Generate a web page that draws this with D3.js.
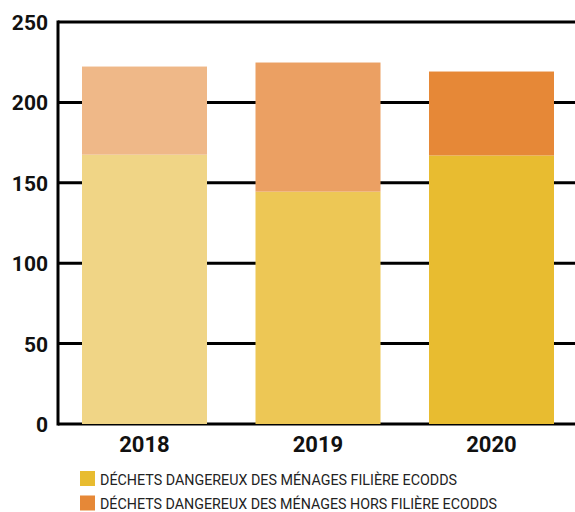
<!DOCTYPE html>
<html><head><meta charset="utf-8">
<script src="https://cdn.jsdelivr.net/npm/d3@7"></script>
<style>body{margin:0;background:#fff}svg{display:block}</style>
</head><body>
<svg id="c" width="575" height="512"></svg>
<script>
const years = ["2018", "2019", "2020"];
const filiere = [167.5, 144.5, 167];
const horsFiliere = [54.8, 80.3, 52.2];
const yTicks = [0, 50, 100, 150, 200, 250];
const seriesNames = ["DÉCHETS DANGEREUX DES MÉNAGES FILIÈRE ECODDS", "DÉCHETS DANGEREUX DES MÉNAGES HORS FILIÈRE ECODDS"];
const bottomColors = ["#F0D586", "#EDC755", "#E8BC30"];
const topColors = ["#EFB888", "#EBA063", "#E68837"];
const legendColors = ["#E8BC30", "#E68837"];

const svg = d3.select("#c");
const x0 = 58, x1 = 575, yTop = 22, yBot = 424;
const y = d3.scaleLinear().domain([0, 250]).range([yBot, yTop]);
const xb = d3.scaleBand().domain(years).range([82, 554]).paddingInner(0.2795).paddingOuter(0);

const font = "Roboto, 'DejaVu Sans', sans-serif";

// gridlines
svg.append("g").selectAll("line").data(yTicks.filter(d => d > 0)).join("line")
  .attr("x1", x0).attr("x2", x1).attr("y1", d => y(d)).attr("y2", d => y(d))
  .attr("stroke", "#000").attr("stroke-width", 3);

// y axis tick labels
const yAxis = d3.axisLeft(y).tickValues(yTicks).tickSize(0).tickPadding(10);
const ga = svg.append("g").attr("transform", `translate(${x0},0)`).call(yAxis);
ga.select(".domain").remove();
ga.selectAll("text").attr("font-family", font).attr("font-weight", 700).attr("font-size", 21).attr("fill", "#111").attr("dy", "0.36em");

// axis lines
svg.append("line").attr("x1", x0).attr("x2", x0).attr("y1", yTop - 1.5).attr("y2", yBot + 1.5).attr("stroke", "#000").attr("stroke-width", 3);
svg.append("line").attr("x1", x0).attr("x2", x1).attr("y1", yBot).attr("y2", yBot).attr("stroke", "#000").attr("stroke-width", 3);

// bars
const g = svg.append("g");
g.selectAll("rect.b").data(years).join("rect").attr("class", "b")
  .attr("x", d => xb(d)).attr("width", xb.bandwidth())
  .attr("y", (d, i) => y(filiere[i])).attr("height", (d, i) => y(0) - y(filiere[i]))
  .attr("fill", (d, i) => bottomColors[i]);
g.selectAll("rect.t").data(years).join("rect").attr("class", "t")
  .attr("x", d => xb(d)).attr("width", xb.bandwidth())
  .attr("y", (d, i) => y(filiere[i] + horsFiliere[i])).attr("height", (d, i) => y(filiere[i]) - y(filiere[i] + horsFiliere[i]))
  .attr("fill", (d, i) => topColors[i]);

// x labels
const xAxis = d3.axisBottom(xb).tickSize(0).tickPadding(12);
const gx = svg.append("g").attr("transform", `translate(0,${yBot})`).call(xAxis);
gx.select(".domain").remove();
gx.selectAll("text").attr("font-family", font).attr("font-weight", 700).attr("font-size", 22).attr("fill", "#111");

// legend
const lg = svg.append("g").selectAll("g").data(seriesNames).join("g")
  .attr("transform", (d, i) => `translate(80,${471 + i * 24.5})`);
lg.append("rect").attr("width", 15).attr("height", 15).attr("fill", (d, i) => legendColors[i]);
lg.append("text").attr("x", 20).attr("y", 13.5).text(d => d)
  .attr("font-family", font).attr("font-size", 14.5).attr("fill", "#222")
  .attr("textLength", (d, i) => i === 0 ? 357 : 397).attr("lengthAdjust", "spacingAndGlyphs");
</script>
</body></html>
